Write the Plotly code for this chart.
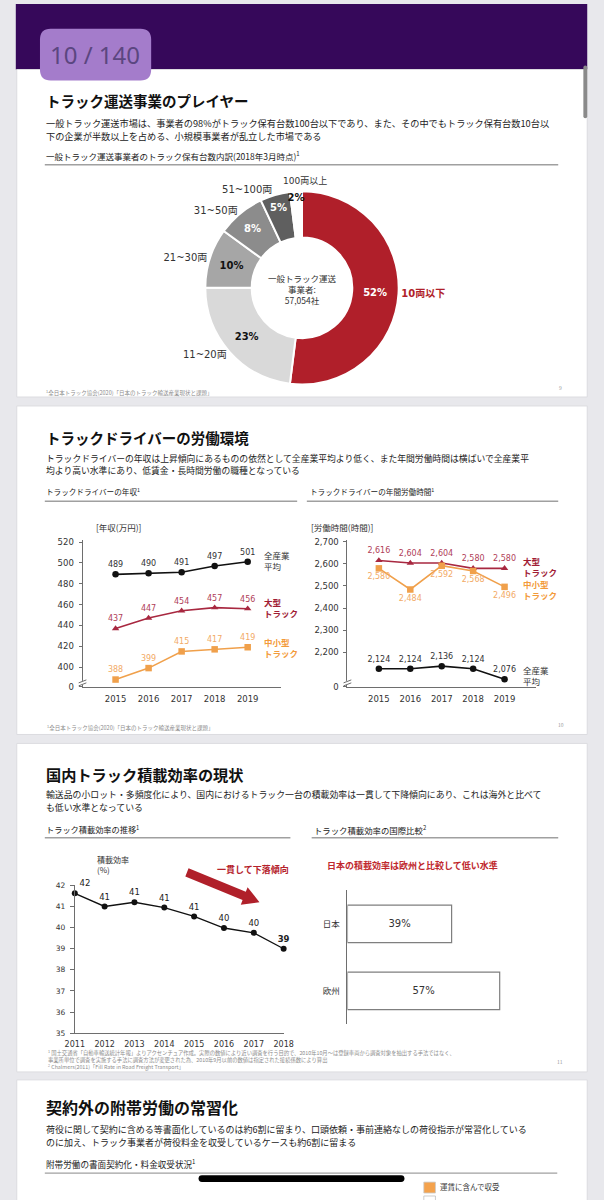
import math
import plotly.graph_objects as go

W, H = 604, 1200
def X(p): return p / W
def Y(p): return 1 - p / H

JP = "Noto Sans CJK JP"
NUM = "DejaVu Sans, Noto Sans CJK JP"

# ---------------- data ----------------
pie_labels = ["10両以下", "11~20両", "21~30両", "31~50両", "51~100両", "100両以上"]
pie_values = [52, 23, 10, 8, 5, 2]
pie_center = "一般トラック運送<br>事業者:<br>57,054社"

years_a = [2015, 2016, 2017, 2018, 2019]
income_all = [489, 490, 491, 497, 501]
income_large = [437, 447, 454, 457, 456]
income_small = [388, 399, 415, 417, 419]
income_ticks = [400, 420, 440, 460, 480, 500, 520]

hours_large = [2616, 2604, 2604, 2580, 2580]
hours_small = [2580, 2484, 2592, 2568, 2496]
hours_all = [2124, 2124, 2136, 2124, 2076]
hours_ticks = [2200, 2300, 2400, 2500, 2600, 2700]

years_b = [2011, 2012, 2013, 2014, 2015, 2016, 2017, 2018]
load_eff = [41.62, 41.0, 41.2, 40.95, 40.53, 39.98, 39.75, 39.0]
load_ticks = [35, 36, 37, 38, 39, 40, 41, 42]

regions = ["日本", "欧州"]
region_eff = [39, 57]

# ---------------- styles ----------------
RED = "#a82840"; RED_LBL = "#b04058"; RED_NAME = "#a01c34"
ORG = "#f0a04b"; ORG_LBL = "#f2aa66"; ORG_NAME = "#f39a3a"
BLK = "#111111"
AX = "#6e6e6e"
TXT = "#222222"
LX = 36
DY = -1.5

fig = go.Figure()
shapes = []
annots = []

def rect(x0, y0, x1, y1, fill, line=None, lw=0, layer="below"):
    shapes.append(dict(type="rect", xref="paper", yref="paper",
                       x0=X(x0), x1=X(x1), y0=Y(y1), y1=Y(y0),
                       fillcolor=fill, line=dict(color=line or fill, width=lw), layer=layer))

def rrect(x0, y0, x1, y1, r, fill, layer="above"):
    p = (f"M {X(x0+r)},{Y(y0)} L {X(x1-r)},{Y(y0)} Q {X(x1)},{Y(y0)} {X(x1)},{Y(y0+r)} "
         f"L {X(x1)},{Y(y1-r)} Q {X(x1)},{Y(y1)} {X(x1-r)},{Y(y1)} L {X(x0+r)},{Y(y1)} "
         f"Q {X(x0)},{Y(y1)} {X(x0)},{Y(y1-r)} L {X(x0)},{Y(y0+r)} Q {X(x0)},{Y(y0)} {X(x0+r)},{Y(y0)} Z")
    shapes.append(dict(type="path", xref="paper", yref="paper", path=p,
                       fillcolor=fill, line=dict(width=0), layer=layer))

def hline(x0, x1, y, color="#a0a0a0", w=1.4):
    shapes.append(dict(type="line", xref="paper", yref="paper", x0=X(x0), x1=X(x1),
                       y0=Y(y), y1=Y(y), line=dict(color=color, width=w), layer="above"))

def seg(x0, y0, x1, y1, color=AX, w=1):
    shapes.append(dict(type="line", xref="paper", yref="paper", x0=X(x0), x1=X(x1),
                       y0=Y(y0), y1=Y(y1), line=dict(color=color, width=w), layer="above"))

def txt(x, y, s, size, color=TXT, xanchor="left", family=JP, weight="normal",
        xref="paper", yref="paper", align="left", yanchor="middle", dy=DY):
    if xref == "paper":
        x = X(x)
    if yref == "paper":
        y = Y(y + dy)
    annots.append(dict(x=x, y=y, xref=xref, yref=yref, text=s, showarrow=False,
                       xanchor=xanchor, yanchor=yanchor, align=align, borderpad=0,
                       font=dict(family=family, size=size, color=color, weight=weight)))

# ---------------- page chrome ----------------
rect(6, 0, 597, 66, "#36085a")
for (a, b) in [(66, 396), (405, 736), (745, 1076), (1084, 1215)]:
    rect(7, a, 597, b, "#ffffff", line="#dcdce0", lw=1)
rrect(31, 25, 146, 77, 11, "#a47ccb")
txt(88, 52.5, "10 / 140", 24, color="#5b4680", xanchor="center", family="Noto Sans")
rrect(593, 62, 597, 115, 2, "#8a8a8a")

# ---------------- slide 1 ----------------
txt(LX, 99, "トラック運送事業のプレイヤー", 14.5, color="#111", weight="bold")
txt(LX, 121, "一般トラック運送市場は、事業者の98%がトラック保有台数100台以下であり、また、その中でもトラック保有台数10台以", 9.2)
txt(LX, 134, "下の企業が半数以上を占める、小規模事業者が乱立した市場である", 9.2)
txt(LX, 154, "一般トラック運送事業者のトラック保有台数内訳(2018年3月時点)<sup>1</sup>", 8.5)
hline(36, 567, 162)
txt(LX, 393, "<sup>1</sup>全日本トラック協会(2020)「日本のトラック輸送産業現状と課題」", 5.5, color="#8c8c8c")
txt(567, 388, "9", 5, color="#999")

pie_colors = ["#b01f2a", "#d9d9d9", "#a6a6a6", "#8c8c8c", "#5f5f5f", "#ffffff"]
pie_text_colors = ["#ffffff", "#111111", "#111111", "#ffffff", "#ffffff", "#111111"]
pie_dom = dict(x=[X(202), X(402)], y=[Y(387), Y(185)])
fig.add_trace(go.Pie(values=pie_values, labels=pie_labels, sort=False, direction="clockwise",
                     rotation=0, hole=0.52, domain=pie_dom,
                     marker=dict(colors=pie_colors, line=dict(color="white", width=2)),
                     texttemplate="%{value}%", textposition="inside",
                     insidetextorientation="horizontal",
                     textfont=dict(family=NUM, size=10.5, color=pie_text_colors, weight="bold"),
                     showlegend=False, hoverinfo="skip"))
out_text = [f"<b>{l}</b>" if i == 0 else l for i, l in enumerate(pie_labels)]
out_text[-1] = ""
out_colors = ["#b01f2a"] + ["#333333"] * (len(pie_labels) - 1)
fig.add_trace(go.Pie(values=pie_values, labels=pie_labels, sort=False, direction="clockwise",
                     rotation=0, hole=0.52, domain=pie_dom, text=out_text,
                     marker=dict(colors=["rgba(0,0,0,0)"] * len(pie_values), line=dict(width=0)),
                     texttemplate="%{text}", textposition="outside",
                     outsidetextfont=dict(family=NUM, size=9, color=out_colors),
                     showlegend=False, hoverinfo="skip"))
txt(305, 180, pie_labels[-1], 9, color="#333", xanchor="center", family=NUM)
txt(302, 289, pie_center, 8.5, color="#333", xanchor="center", align="center")

# ---------------- slide 2 ----------------
txt(LX, 438, "トラックドライバーの労働環境", 14.5, color="#111", weight="bold")
txt(LX, 459, "トラックドライバーの年収は上昇傾向にあるものの依然として全産業平均より低く、また年間労働時間は横ばいで全産業平", 8.8)
txt(LX, 472, "均より高い水準にあり、低賃金・長時間労働の職種となっている", 8.8)
txt(LX, 493, "トラックドライバーの年収<sup>1</sup>", 7.6)
txt(309, 493, "トラックドライバーの年間労働時間<sup>1</sup>", 7.6)
hline(36, 297, 501)
hline(307, 567, 501)
txt(LX + 1, 731, "<sup>1</sup>全日本トラック協会(2020)「日本のトラック輸送産業現状と課題」", 5.5, color="#8c8c8c")
txt(566, 727, "10", 5, color="#999")

def series(x, y, xa, ya, color, symbol, labels, pos, lcolor, size=8):
    fig.add_trace(go.Scatter(x=x, y=y, xaxis=xa, yaxis=ya, mode="lines+markers+text",
                             line=dict(color=color, width=1.6),
                             marker=dict(symbol=symbol, size=6.5, color=color),
                             text=labels, textposition=pos,
                             textfont=dict(family=NUM, size=size, color=lcolor),
                             cliponaxis=False, showlegend=False, hoverinfo="skip"))

series(years_a, income_all, "x2", "y2", BLK, "circle", [str(v) for v in income_all], "top center", "#333")
series(years_a, income_large, "x2", "y2", RED, "triangle-up", [str(v) for v in income_large], "top center", RED_LBL)
series(years_a, income_small, "x2", "y2", ORG, "square", [str(v) for v in income_small], "top center", ORG_LBL)

series(years_a, hours_large, "x3", "y3", RED, "triangle-up", [f"{v:,}" for v in hours_large], "top center", RED_LBL)
series(years_a, hours_small, "x3", "y3", ORG, "square", [f"{v:,}" for v in hours_small], "bottom center", ORG_LBL)
series(years_a, hours_all, "x3", "y3", BLK, "circle", [f"{v:,}" for v in hours_all], "top center", "#333")

txt(88, 528, "[年収(万円)]", 8.5, color="#333")
txt(310, 528, "[労働時間(時間)]", 8.5, color="#333")
txt(2019.45, 502, "全産業<br>平均", 8.5, color="#333", xref="x2", yref="y2")
txt(2019.45, 457, "<b>大型<br>トラック</b>", 8.5, color=RED_NAME, xref="x2", yref="y2")
txt(2019.45, 419, "<b>中小型<br>トラック</b>", 8.5, color=ORG_NAME, xref="x2", yref="y2")
txt(2019.57, 2587, "<b>大型<br>トラック</b>", 8.5, color=RED_NAME, xref="x3", yref="y3")
txt(2019.57, 2484, "<b>中小型<br>トラック</b>", 8.5, color=ORG_NAME, xref="x3", yref="y3")
txt(2019.57, 2092, "全産業<br>平均", 8.5, color="#333", xref="x3", yref="y3")

for ax_x in (75, 349):
    shapes.append(dict(type="rect", xref="paper", yref="paper", x0=X(ax_x - 3), x1=X(ax_x + 3),
                       y0=Y(686), y1=Y(682), fillcolor="white", line=dict(width=0), layer="above"))
    seg(ax_x - 4, 684, ax_x + 4, 681)
    seg(ax_x - 4, 687, ax_x + 4, 684)

# ---------------- slide 3 ----------------
txt(LX, 777, "国内トラック積載効率の現状", 15.2, color="#111", weight="bold")
txt(LX, 798, "輸送品の小ロット・多頻度化により、国内におけるトラック一台の積載効率は一貫して下降傾向にあり、これは海外と比べて", 8.9)
txt(LX, 811, "も低い水準となっている", 8.9)
txt(LX, 833, "トラック積載効率の推移<sup>1</sup>", 8.2)
txt(313, 833, "トラック積載効率の国際比較<sup>2</sup>", 8.4)
hline(36, 290, 840)
hline(312, 567, 840)

load_lbl = [f"{v:.0f}" for v in load_eff]
load_lbl[-1] = f"<b>{load_lbl[-1]}</b>"
load_pos = ["top right"] + ["top center"] * (len(load_eff) - 1)
fig.add_trace(go.Scatter(x=years_b, y=load_eff, xaxis="x4", yaxis="y4", mode="lines+markers+text",
                         line=dict(color=BLK, width=1.3), marker=dict(size=6, color=BLK),
                         text=load_lbl, textposition=load_pos,
                         textfont=dict(family=NUM, size=8.5, color="#222"),
                         cliponaxis=False, showlegend=False, hoverinfo="skip"))
txt(89, 868, "積載効率<br>(%)", 8, color="#333")
txt(213, 874, "一貫して下落傾向", 9, color="#b5222b", weight="bold")

sx, sy, tx, ty = 183, 875, 258, 905
L = math.hypot(tx - sx, ty - sy)
dx, dy = (tx - sx) / L, (ty - sy) / L
nx, ny = -dy, dx
hw, hh, hl = 4.5, 9.5, 17
bx, by = tx - hl * dx, ty - hl * dy
pts = [(sx + hw * nx, sy + hw * ny), (bx + hw * nx, by + hw * ny), (bx + hh * nx, by + hh * ny),
       (tx, ty), (bx - hh * nx, by - hh * ny), (bx - hw * nx, by - hw * ny), (sx - hw * nx, sy - hw * ny)]
path = "M " + " L ".join(f"{X(a)},{Y(b)}" for a, b in pts) + " Z"
shapes.append(dict(type="path", xref="paper", yref="paper", path=path,
                   fillcolor="#b0202a", line=dict(width=0), layer="above"))

txt(327, 870, "日本の積載効率は欧州と比較して低い水準", 9.0, color="#c0282d", weight="bold")
fig.add_trace(go.Bar(x=region_eff, y=regions, orientation="h", xaxis="x5", yaxis="y5",
                     marker=dict(color="white", line=dict(color="#7f7f7f", width=1.2)),
                     width=0.56, text=[f"{v}%" for v in region_eff], textposition="inside",
                     insidetextanchor="middle",
                     textfont=dict(family=NUM, size=9, color="#333"),
                     showlegend=False, hoverinfo="skip"))

txt(LX + 2, 1057, "<sup>1</sup> 国土交通省「自動車輸送統計年報」よりアクセンチュア作成。実際の数値により近い調査を行う目的で、2010年10月～は登録車両から調査対象を抽出する手法ではなく、", 5.3, color="#8c8c8c", dy=0)
txt(LX + 2, 1064, "事業所単位で調査を実施する手法に調査方法が変更された為、2010年9月以前の数値は指定された接続係数により算出", 5.3, color="#8c8c8c", dy=0)
txt(LX + 2, 1071.5, "<sup>2</sup> Chalmers(2011)「Fill Rate in Road Freight Transport」", 5.3, color="#8c8c8c", dy=0)
txt(565, 1067, "11", 5, color="#999")

# ---------------- slide 4 ----------------
txt(LX, 1113, "契約外の附帯労働の常習化", 16, color="#111", weight="bold")
txt(LX, 1136, "荷役に関して契約に含める等書面化しているのは約6割に留まり、口頭依頼・事前連絡なしの荷役指示が常習化している", 9.0)
txt(LX, 1149, "のに加え、トラック事業者が荷役料金を収受しているケースも約6割に留まる", 9.0)
txt(LX, 1170, "附帯労働の書面契約化・料金収受状況<sup>1</sup>", 8.6)
hline(36, 566, 1178)
rect(428, 1187, 440, 1198, "#f4a24c", line="#c9c9c9", lw=0.8, layer="above")
rect(428, 1201, 440, 1212, "#ffffff", line="#bfbfbf", lw=0.8, layer="above")
txt(444, 1193, "運賃に含んで収受", 7.5, color="#333")
rrect(195, 1180, 408, 1187, 3.5, "#000000")

# ---------------- axes ----------------
tickf = dict(family=NUM, size=8.5, color="#333")
common_x = dict(showgrid=False, zeroline=False, showline=True, linecolor=AX, linewidth=1,
                ticks="", tickfont=tickf, fixedrange=True)
common_y = dict(showgrid=False, zeroline=False, showline=True, linecolor=AX, linewidth=1,
                ticks="outside", ticklen=3, tickcolor=AX, tickfont=tickf, fixedrange=True)

inc_lo, inc_hi = 381, 522
hrs_lo, hrs_hi = 2042, 2709

fig.update_layout(
    width=W, height=H, margin=dict(l=0, r=0, t=0, b=0),
    paper_bgcolor="#e8e8ec", plot_bgcolor="rgba(0,0,0,0)",
    hovermode=False, showlegend=False,
    uniformtext=dict(minsize=10, mode="show"),
    xaxis=dict(visible=False, domain=[0, 0.01]), yaxis=dict(visible=False, domain=[0, 0.01]),
    xaxis2=dict(common_x, domain=[X(75), X(280)], range=[2014, 2020], anchor="y2",
                tickvals=years_a, ticklabelstandoff=4),
    yaxis2=dict(common_y, domain=[Y(688), Y(540)], range=[inc_lo, inc_hi], anchor="x2",
                tickvals=[inc_lo] + income_ticks, ticktext=["0"] + [str(v) for v in income_ticks],
                ticklabelstandoff=3),
    xaxis3=dict(common_x, domain=[X(349), X(544)], range=[2014, 2020], anchor="y3",
                tickvals=years_a, ticklabelstandoff=4),
    yaxis3=dict(common_y, domain=[Y(688), Y(540)], range=[hrs_lo, hrs_hi], anchor="x3",
                tickvals=[hrs_lo] + hours_ticks, ticktext=["0"] + [f"{v:,}" for v in hours_ticks],
                ticklabelstandoff=3),
    xaxis4=dict(common_x, domain=[X(67), X(283)], range=[2011, 2018], anchor="y4",
                tickvals=years_b, tickfont=dict(family=NUM, size=8, color="#333"),
                ticklabelstandoff=3),
    yaxis4=dict(common_y, domain=[Y(1037), Y(888)], range=[35, 42], anchor="x4",
                tickvals=load_ticks, ticklen=4, tickfont=dict(family=NUM, size=7.5, color="#333"),
                ticklabelstandoff=3),
    xaxis5=dict(visible=False, domain=[X(349), X(570)], range=[0, 80], anchor="y5", fixedrange=True),
    yaxis5=dict(domain=[Y(1028), Y(893)], anchor="x5", type="category",
                categoryorder="array", categoryarray=regions, autorange="reversed",
                showline=True, linecolor=AX, linewidth=1.2, ticks="", showgrid=False,
                tickfont=dict(family=JP, size=8.5, color="#333"), ticklabelstandoff=5,
                fixedrange=True),
    shapes=shapes, annotations=annots,
)

fig.write_html("out.html", config={"displayModeBar": False},
               post_script="document.body.style.margin='0';document.body.style.overflow='hidden';")
